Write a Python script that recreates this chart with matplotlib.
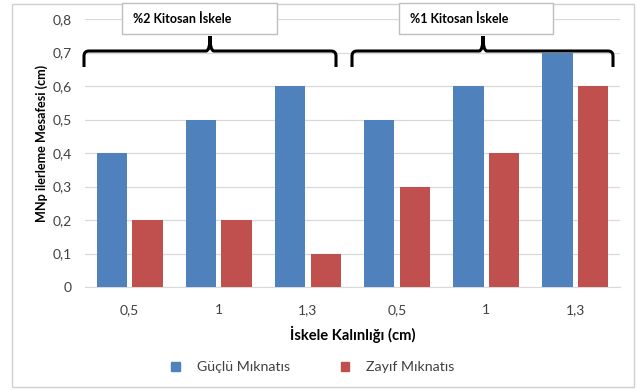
import matplotlib.pyplot as plt
import numpy as np
from matplotlib.patches import Rectangle, Patch
from matplotlib.path import Path
from matplotlib.patches import PathPatch

plt.rcParams['font.family'] = ['Lato', 'DejaVu Sans']

# Data
thickness = ['0,5', '1', '1,3', '0,5', '1', '1,3']
strong = [0.4, 0.5, 0.6, 0.5, 0.6, 0.7]
weak = [0.2, 0.2, 0.1, 0.3, 0.4, 0.6]
groups = ['%2 Kitosan İskele', '%1 Kitosan İskele']
y_ticks = [0, 0.1, 0.2, 0.3, 0.4, 0.5, 0.6, 0.7, 0.8]
y_tick_labels = ['0', '0,1', '0,2', '0,3', '0,4', '0,5', '0,6', '0,7', '0,8']

W, H = 641, 390
fig = plt.figure(figsize=(W / 100, H / 100), dpi=100)


def px(x, y):
    # pixel position (from top-left) -> figure fraction
    return x / W, 1 - y / H


ax = fig.add_axes([85 / W, 1 - 287 / H, (620 - 85) / W, (287 - 19) / H])

x = np.arange(len(thickness))
ax.bar(x - 0.2, strong, width=0.34, color='#4F81BD', zorder=3)
ax.bar(x + 0.2, weak, width=0.34, color='#C0504D', zorder=3)

ax.set_xlim(-0.5, len(thickness) - 0.5)
ax.set_ylim(0, 0.8)
ax.set_yticks(y_ticks)
ax.set_yticklabels(y_tick_labels)
ax.set_xticks(x)
ax.set_xticklabels(thickness)
ax.tick_params(axis='both', length=0, labelsize=10, colors='#404040')
ax.tick_params(axis='x', pad=12)
ax.tick_params(axis='y', pad=9.5)
ax.grid(axis='y', color='#D9D9D9', linewidth=0.9, zorder=0)
for s in ['top', 'right', 'left']:
    ax.spines[s].set_visible(False)
ax.spines['bottom'].set_color('#D9D9D9')

ax.set_xlabel('İskele Kalınlığı (cm)', fontsize=10.6, fontweight='bold', labelpad=7)
ax.set_ylabel('MNp ilerleme Mesafesi (cm)', fontsize=9.1, fontweight='bold')
ax.yaxis.set_label_coords(-0.07, 0.537)

# outer chart border
x0, y0 = px(12, 387)
x1, y1 = px(634, 4)
fig.patches.append(Rectangle((x0, y0), x1 - x0, y1 - y0, transform=fig.transFigure,
                             fill=False, edgecolor='#D0D0D0', linewidth=1, zorder=0))


def brace(left, right, tip, y_line=51, y_end=67, y_tip=36, r=5):
    pts = [px(left, y_end), px(left, y_line + r), px(left, y_line), px(left + r, y_line),
           px(tip - 4, y_line), px(tip, y_line), px(tip, y_tip),
           px(tip, y_line), px(tip + 4, y_line),
           px(right - r, y_line), px(right, y_line), px(right, y_line + r), px(right, y_end)]
    codes = [Path.MOVETO, Path.LINETO, Path.CURVE3, Path.CURVE3,
             Path.LINETO, Path.CURVE3, Path.CURVE3,
             Path.CURVE3, Path.CURVE3,
             Path.LINETO, Path.CURVE3, Path.CURVE3, Path.LINETO]
    fig.patches.append(PathPatch(Path(pts, codes), transform=fig.transFigure,
                                 fill=False, edgecolor='black', linewidth=2.2, zorder=2))


def label_box(left, right, text):
    bx0, by0 = px(left, 34)
    bx1, by1 = px(right, 3)
    fig.patches.append(Rectangle((bx0, by0), bx1 - bx0, by1 - by0, transform=fig.transFigure,
                                 facecolor='white', edgecolor='#BFBFBF', linewidth=1, zorder=3))
    tx, ty = px(left + 11, 19)
    fig.text(tx, ty, text, fontsize=9, fontweight='bold', ha='left', va='center',
             color='black', zorder=4)


brace(84, 336, 210)
brace(352, 613, 483)
label_box(122, 277, groups[0])
label_box(399, 553, groups[1])

handles = [Patch(color='#4F81BD'), Patch(color='#C0504D')]
lx, ly = px(313, 367)
fig.legend(handles, ['Güçlü Mıknatıs', 'Zayıf Mıknatıs'], loc='center', bbox_to_anchor=(lx, ly),
           ncol=2, frameon=False, fontsize=10.2, handlelength=0.6, handleheight=0.6,
           columnspacing=3.6, handletextpad=1.2, labelcolor='#404040')

fig.savefig('out.png', dpi=100)
